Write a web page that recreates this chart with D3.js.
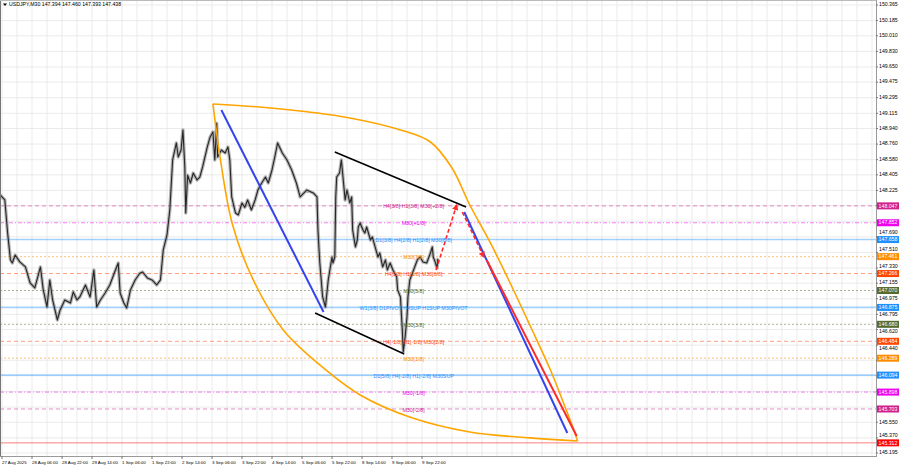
<!DOCTYPE html>
<html><head><meta charset="utf-8">
<script src="https://cdn.jsdelivr.net/npm/d3@7"></script>
<style>html,body{margin:0;padding:0;background:#fff;overflow:hidden}text{font-family:"Liberation Sans",Arial,sans-serif}</style>
</head><body><svg id="c" width="900" height="468"></svg>
<script>
// ---------- DATA ----------
const titleText = "USDJPY,M30  147.394 147.460 147.393 147.438";
const timeLabels = ["27 Aug 2025","28 Aug 06:00","28 Aug 22:00","29 Aug 14:00","1 Sep 06:00","1 Sep 22:00","2 Sep 14:00","3 Sep 06:00","3 Sep 22:00","4 Sep 14:00","5 Sep 06:00","5 Sep 22:00","8 Sep 14:00","9 Sep 06:00","9 Sep 22:00"];
const priceTicks = [150.365,150.185,150.010,149.830,149.650,149.475,149.295,149.115,148.940,148.760,148.580,148.405,148.225,148.050,147.870,147.690,147.510,147.330,147.155,146.975,146.795,146.620,146.440,146.265,146.085,145.905,145.725,145.550,145.370,145.195];
// M30 bar index and price of the traced price path
const barIdx = [-2,3,6,9,11,14,19,25,30,35,41,44,48,51,54,59,62,67,73,76,80,83,89,94,98,101,105,110,115,121,124,126,130,133,137,142,147,150,155,160,165,169,172,176,179,182,186,188,191,193,195,196,198,201,204,208,211,214,219,222,225,227,229,230,234,238,241,243,245,249,252,256,259,262,266,270,273,277,281,284,288,291,294,299,304,309,314,318,325,332,336,337,339,342,345,348,352,353,355,356,357,360,362,364,366,368,371,373,374,377,379,380,382,385,387,389,393,395,398,401,403,406,409,411,414,417,421,422,425,427,428,430,432,433,435,439,443,446,449,453,457,459,460,462,464,465];
const barPrice = [148.173,148.115,147.734,147.423,147.388,147.480,147.400,147.342,147.157,147.100,147.342,147.077,146.880,147.192,146.961,146.730,146.846,146.961,146.926,147.054,146.961,146.996,147.134,146.996,147.307,146.880,146.961,147.042,147.134,147.307,147.388,147.042,146.926,146.869,147.077,147.192,147.270,147.284,147.215,147.192,147.134,147.192,147.538,147.711,148.000,148.577,148.773,148.611,148.692,148.923,148.496,147.965,148.400,148.311,148.426,148.346,148.380,148.496,148.727,148.842,148.900,148.577,149.000,148.611,148.692,148.657,148.727,148.577,148.150,147.965,147.942,148.080,148.030,148.115,148.000,148.115,148.230,148.311,148.380,148.311,148.461,148.611,148.773,148.657,148.577,148.461,148.311,148.150,148.230,148.196,148.150,147.769,147.388,146.996,146.880,147.192,147.457,147.388,147.457,148.150,148.380,148.426,148.577,148.346,148.115,148.230,148.080,148.150,147.769,147.573,147.653,147.803,147.850,147.769,147.734,147.803,147.653,147.688,147.573,147.457,147.503,147.342,147.423,147.307,147.388,147.307,147.227,147.077,146.996,146.615,146.361,146.534,146.765,146.996,147.192,147.307,147.423,147.457,147.400,147.388,147.503,147.573,147.457,147.400,147.330,147.438];
// Murrey-style levels
const levelPrices = [148.047,147.852,147.658,147.461,147.266,147.070,146.875,146.680,146.484,146.289,146.094,145.898,145.703,145.312];
const levelTexts = ["H4[3/8] H1[3/8] M30[+2/8]","M30[+1/8]","D1[3/8] H4[2/8] H1[2/8] M30[8/8]","M30[7/8]","H4[1/8] H1[1/8] M30[6/8]","M30[5/8]","W1[3/8] D1PIVOT H4SUP H1SUP M30PIVOT","M30[3/8]","H4[-1/8] H1[-1/8] M30[2/8]","M30[1/8]","D1[5/8] H4[-2/8] H1[-2/8] M30SUP","M30[-1/8]","M30[-2/8]",""];
const levelKinds = ["pink","magenta","blue","orange","orangered","olive","blue","olive","orangered","orange","blue","magenta","pink","red"];
// Drawn objects (bar index, price)
const fanOuterBars = [225,275,318,371,425,457,480,499,521,542,563,585,601,610,614];
const fanOuterPrices = [149.223,149.188,149.142,149.061,148.923,148.784,148.484,148.057,147.619,147.157,146.672,146.153,145.715,145.461,145.334];
const fanInnerBars = [225,233,246,268,300,339,382,438,499,563,614];
const fanInnerPrices = [149.223,148.577,147.827,147.192,146.615,146.211,145.865,145.599,145.438,145.369,145.334];
const blueLine1 = {bars:[234,343], prices:[149.153,146.823]};
const blueLine2 = {bars:[493,603], prices:[147.976,145.426]};
const redLine = {bars:[517,613], prices:[147.423,145.392]};
const blackUpper = {bars:[355,495], prices:[148.669,148.034]};
const blackLower = {bars:[334,429], prices:[146.811,146.338]};
const arrowUp = {bars:[463,485], prices:[147.307,148.057]};
const arrowDown = {bars:[491,514], prices:[147.976,147.457]};

// ---------- STYLE ----------
const kindColor = {pink:"#d0208c",magenta:"#ee00ee",blue:"#1e90ff",orange:"#ff8c00",orangered:"#ff4500",olive:"#556b2f",red:"#ff0000"};
const kindDash = {pink:"4,3",magenta:"4,2,1,2",blue:null,orange:"2,2",orangered:"4,3",olive:"2,2",red:null};

const W=900,H=468, plotR=876, plotB=456;
const svg = d3.select("#c");
const x = d3.scaleLinear().domain([0,480]).range([2,452]);
const y = d3.scaleLinear().domain([145.195,150.365]).range([453,5]);

svg.append("rect").attr("width",W).attr("height",H).attr("fill","#fff");
svg.append("clipPath").attr("id","clip").append("rect").attr("x",0).attr("y",0).attr("width",plotR).attr("height",plotB);
const g = svg.append("g").attr("clip-path","url(#clip)");

// grid
const gridX = d3.range(0,960,16);
g.selectAll(".gx").data(gridX).enter().append("line")
 .attr("x1",d=>x(d)).attr("x2",d=>x(d)).attr("y1",0).attr("y2",plotB)
 .attr("stroke","#e6e6e6").attr("stroke-width",0.8);
g.selectAll(".gy").data(priceTicks).enter().append("line")
 .attr("x1",0).attr("x2",plotR).attr("y1",d=>y(d)).attr("y2",d=>y(d))
 .attr("stroke","#e6e6e6").attr("stroke-width",0.8);

// levels
levelPrices.forEach((p,i)=>{
  const k=levelKinds[i];
  const ln=g.append("line").attr("x1",0).attr("x2",plotR).attr("y1",y(p)).attr("y2",y(p))
   .attr("stroke",kindColor[k]).attr("stroke-width",k==="blue"?1.6:1).attr("opacity",k==="blue"?0.4:0.5);
  if(kindDash[k]) ln.attr("stroke-dasharray",kindDash[k]);
});

// price path
const line = d3.line().x(d=>x(d[0])).y(d=>y(d[1]));
const pts = barIdx.map((b,i)=>[b,barPrice[i]]);
g.append("path").attr("d",line(pts)).attr("fill","none").attr("stroke","#7a7a7a").attr("stroke-width",3.4).attr("opacity",0.55).attr("stroke-linejoin","round");
g.append("path").attr("d",line(pts)).attr("fill","none").attr("stroke","#262626").attr("stroke-width",1.1).attr("stroke-linejoin","round");

// fan curves
const curve = d3.line().x(d=>x(d[0])).y(d=>y(d[1])).curve(d3.curveCatmullRom);
g.append("path").attr("d",curve(fanOuterBars.map((b,i)=>[b,fanOuterPrices[i]]))).attr("fill","none").attr("stroke","#ffa500").attr("stroke-width",1.6);
g.append("path").attr("d",curve(fanInnerBars.map((b,i)=>[b,fanInnerPrices[i]]))).attr("fill","none").attr("stroke","#ffa500").attr("stroke-width",1.6);

function seg(o,color,w,dash){
  const p=g.append("line").attr("x1",x(o.bars[0])).attr("y1",y(o.prices[0])).attr("x2",x(o.bars[1])).attr("y2",y(o.prices[1]))
   .attr("stroke",color).attr("stroke-width",w);
  if(dash) p.attr("stroke-dasharray",dash);
  return p;
}
seg(blueLine1,"#3344ee",2);
seg(blackUpper,"#000",1.6);
seg(blackLower,"#000",1.6);
seg(blueLine2,"#3344ee",2);
seg(redLine,"#ff2a2a",2);

// arrow marker
const defs = svg.append("defs");
defs.append("marker").attr("id","ah").attr("viewBox","0 0 10 10").attr("refX",8).attr("refY",5)
 .attr("markerWidth",4).attr("markerHeight",4).attr("orient","auto")
 .append("path").attr("d","M0,0L10,5L0,10z").attr("fill","#ff2a2a");
seg(arrowUp,"#ff2a2a",1.6,"4,2.5").attr("marker-end","url(#ah)");
seg(arrowDown,"#ff2a2a",1.6,"4,2.5").attr("marker-end","url(#ah)");

// level texts
levelPrices.forEach((p,i)=>{
  if(!levelTexts[i]) return;
  g.append("text").attr("x",x(439)).attr("y",y(p)+1.2).attr("text-anchor","middle").attr("dominant-baseline","middle")
   .attr("font-size",5.3).attr("fill",kindColor[levelKinds[i]]).text(levelTexts[i]);
});

// frame
svg.append("line").attr("x1",plotR+0.5).attr("x2",plotR+0.5).attr("y1",0).attr("y2",plotB).attr("stroke","#9a9a9a").attr("stroke-width",1);
svg.append("line").attr("x1",0).attr("x2",plotR+1).attr("y1",plotB+0.5).attr("y2",plotB+0.5).attr("stroke","#9a9a9a").attr("stroke-width",1);
svg.append("line").attr("x1",0.5).attr("x2",0.5).attr("y1",0).attr("y2",plotB).attr("stroke","#777").attr("stroke-width",1);
svg.append("line").attr("x1",0).attr("x2",plotR).attr("y1",0.5).attr("y2",0.5).attr("stroke","#bbb").attr("stroke-width",1);

// price axis: tick labels pushed clear of the level tags (dropped if hidden behind one)
const tagYs = levelPrices.map(p=>y(p));
const tickPos = [];
priceTicks.forEach(t=>{
  let ty=y(t), hidden=false;
  tagYs.forEach(ly=>{
    const d=ty-ly;
    if(Math.abs(d)<2.5) hidden=true;
    else if(Math.abs(d)<7.4) ty = ly + (d>0?7.4:-7.4);
  });
  if(!hidden) tickPos.push({t,ty});
});
svg.selectAll(".pt").data(tickPos).enter().append("text")
 .attr("x",879).attr("y",d=>d.ty).attr("dominant-baseline","middle").attr("font-size",5.2).attr("fill","#000")
 .text(d=>d.t.toFixed(3));
svg.selectAll(".ptk").data(priceTicks).enter().append("line")
 .attr("x1",plotR).attr("x2",plotR+2).attr("y1",d=>y(d)).attr("y2",d=>y(d)).attr("stroke","#777");
// tags
levelPrices.forEach((p,i)=>{
  const c=kindColor[levelKinds[i]];
  svg.append("rect").attr("x",plotR+1).attr("y",y(p)-3.5).attr("width",22).attr("height",7).attr("fill",c);
  svg.append("text").attr("x",plotR+12).attr("y",y(p)+0.3).attr("text-anchor","middle").attr("dominant-baseline","middle")
   .attr("font-size",5.2).attr("fill","#fff").text(p.toFixed(3));
});

// time axis
svg.selectAll(".tl").data(timeLabels).enter().append("text")
 .attr("x",(d,i)=>x(i*32)).attr("y",463).attr("dominant-baseline","middle").attr("font-size",4.4).attr("fill","#000").text(d=>d);
svg.selectAll(".tt").data(timeLabels).enter().append("line")
 .attr("x1",(d,i)=>x(i*32)).attr("x2",(d,i)=>x(i*32)).attr("y1",plotB).attr("y2",plotB+3).attr("stroke","#777");

// title
svg.append("path").attr("d","M3,3.5L7,3.5L5,6z").attr("fill","#000");
svg.append("text").attr("x",9).attr("y",5).attr("dominant-baseline","middle").attr("font-size",5.2).attr("fill","#000").text(titleText);
</script></body></html>
